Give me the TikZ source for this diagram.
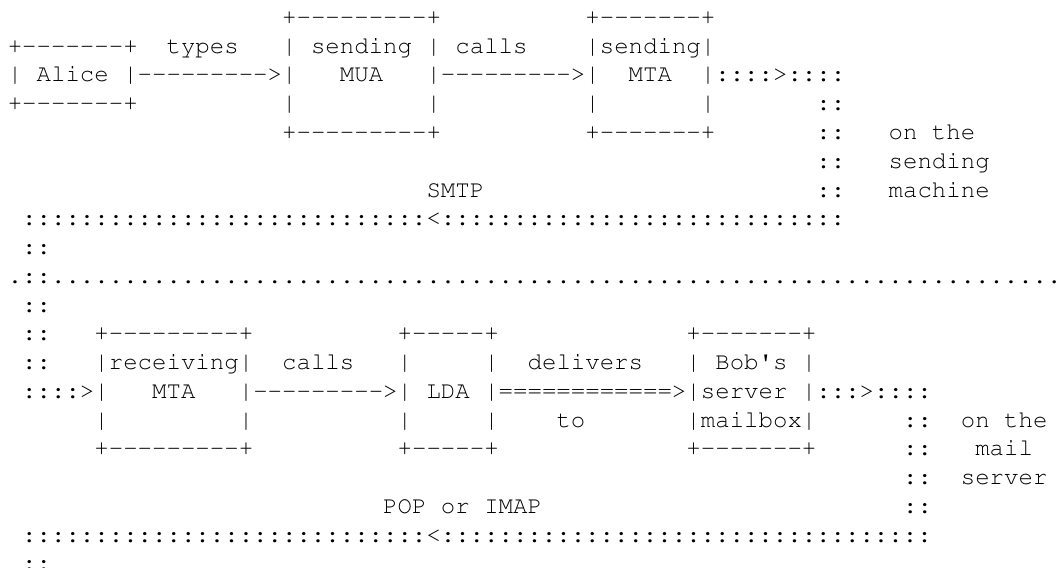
\documentclass[tikz,border=0pt]{standalone}
\usepackage[T1,TU]{fontenc}
\newcommand\asciifont{\fontencoding{T1}\fontfamily{pcr}\fontseries{m}\fontshape{n}\fontsize{24.06}{28}\selectfont}
\newcommand\rep[2]{\foreach\k in {1,...,#1}{#2}}
\tikzset{asc/.style={anchor=base west, inner sep=0pt, outer sep=0pt, font=\asciifont}}
\begin{document}
\begin{tikzpicture}[x=14.44pt,y=-28.75pt]
\path[use as bounding box] (0,0) rectangle (73.476,19.722);
\clip (0,0) rectangle (73.476,19.722);
\fill[white] (0,0) rectangle (73.476,19.722);
\begin{scope}[shift={(0.539,-0.148)}]
% row 1
\node[asc] (r1a) at (19,1) {+\rep{9}{-}+};
\node[asc] (r1b) at (40,1) {+\rep{7}{-}+};
% row 2
\node[asc] (r2a) at (0,2) {+\rep{7}{-}+};
\node[asc] (r2b) at (11,2) {types};
\node[asc] (r2c) at (19,2) {|};
\node[asc] (r2d) at (21,2) {sending};
\node[asc] (r2e) at (29,2) {|};
\node[asc] (r2f) at (31,2) {calls};
\node[asc] (r2g) at (40,2) {|sending|};
% row 3
\node[asc] (r3a) at (0,3) {|};
\node[asc] (r3b) at (2,3) {Alice};
\node[asc] (r3c) at (8,3) {|\rep{9}{-}>|};
\node[asc] (r3d) at (23,3) {MUA};
\node[asc] (r3e) at (29,3) {|\rep{9}{-}>|};
\node[asc] (r3f) at (43,3) {MTA};
\node[asc] (r3g) at (48,3) {|\rep{4}{:}>\rep{4}{:}};
% row 4
\node[asc] (r4a) at (0,4) {+\rep{7}{-}+};
\node[asc] (r4b) at (19,4) {|};
\node[asc] (r4c) at (29,4) {|};
\node[asc] (r4d) at (40,4) {|};
\node[asc] (r4e) at (48,4) {|};
\node[asc] (r4f) at (56,4) {::};
% row 5
\node[asc] (r5a) at (19,5) {+\rep{9}{-}+};
\node[asc] (r5b) at (40,5) {+\rep{7}{-}+};
\node[asc] (r5c) at (56,5) {::};
\node[asc] (r5d) at (61,5) {on the};
% row 6
\node[asc] (r6a) at (56,6) {::};
\node[asc] (r6b) at (61,6) {sending};
% row 7
\node[asc] (r7a) at (29,7) {SMTP};
\node[asc] (r7b) at (56,7) {::};
\node[asc] (r7c) at (61,7) {machine};
% row 8
\node[asc] (r8a) at (1,8) {\rep{28}{:}<\rep{28}{:}};
% row 9
\node[asc] (r9a) at (1,9) {::};
% row 10
\node[asc] (r10a) at (0,10) {.::\rep{70}{.}};
% row 11
\node[asc] (r11a) at (1,11) {::};
% row 12
\node[asc] (r12a) at (1,12) {::};
\node[asc] (r12b) at (6,12) {+\rep{9}{-}+};
\node[asc] (r12c) at (27,12) {+\rep{5}{-}+};
\node[asc] (r12d) at (47,12) {+\rep{7}{-}+};
% row 13
\node[asc] (r13a) at (1,13) {::};
\node[asc] (r13b) at (6,13) {|receiving|};
\node[asc] (r13c) at (19,13) {calls};
\node[asc] (r13d) at (27,13) {|};
\node[asc] (r13e) at (33,13) {|};
\node[asc] (r13f) at (36,13) {delivers};
\node[asc] (r13g) at (47,13) {|};
\node[asc] (r13h) at (49,13) {Bob\textquotesingle s};
\node[asc] (r13i) at (55,13) {|};
% row 14
\node[asc] (r14a) at (1,14) {\rep{4}{:}>|};
\node[asc] (r14b) at (10,14) {MTA};
\node[asc] (r14c) at (16,14) {|\rep{9}{-}>|};
\node[asc] (r14d) at (29,14) {LDA};
\node[asc] (r14e) at (33,14) {|\rep{12}{=}>|};
\node[asc] (r14f) at (48,14) {server};
\node[asc] (r14g) at (55,14) {|\rep{3}{:}>\rep{4}{:}};
% row 15
\node[asc] (r15a) at (6,15) {|};
\node[asc] (r15b) at (16,15) {|};
\node[asc] (r15c) at (27,15) {|};
\node[asc] (r15d) at (33,15) {|};
\node[asc] (r15e) at (38,15) {to};
\node[asc] (r15f) at (47,15) {|mailbox|};
\node[asc] (r15g) at (62,15) {::};
\node[asc] (r15h) at (66,15) {on the};
% row 16
\node[asc] (r16a) at (6,16) {+\rep{9}{-}+};
\node[asc] (r16b) at (27,16) {+\rep{5}{-}+};
\node[asc] (r16c) at (47,16) {+\rep{7}{-}+};
\node[asc] (r16d) at (62,16) {::};
\node[asc] (r16e) at (67,16) {mail};
% row 17
\node[asc] (r17a) at (62,17) {::};
\node[asc] (r17b) at (66,17) {server};
% row 18
\node[asc] (r18a) at (26,18) {POP or IMAP};
\node[asc] (r18b) at (62,18) {::};
% row 19
\node[asc] (r19a) at (1,19) {\rep{28}{:}<\rep{34}{:}};
% row 20
\node[asc] (r20a) at (1,20) {::};
\end{scope}
\end{tikzpicture}
\end{document}
